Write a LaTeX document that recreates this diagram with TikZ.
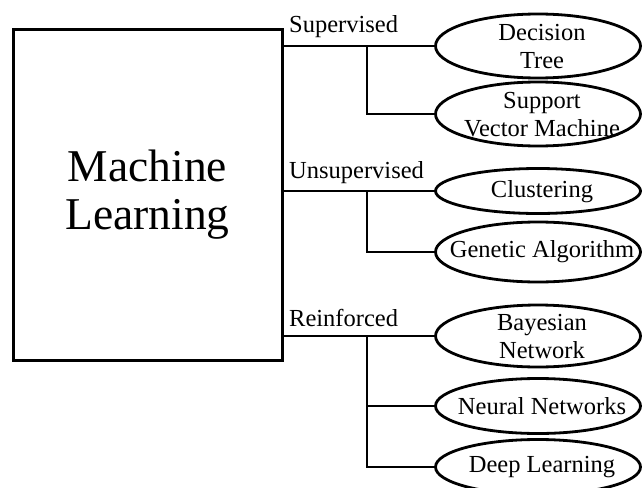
\documentclass[tikz,border=0pt]{standalone}
\usepackage{fontspec}
\setmainfont{Liberation Serif}
\usetikzlibrary{shapes.geometric}
\begin{document}
\begin{tikzpicture}[x=1pt,y=-1pt,
  link/.style={line width=2.8pt,line cap=rect},
  leaf/.style={draw,ellipse,line width=2.8pt,inner sep=0pt,minimum width=205pt},
  leaftext/.style={font=\fontsize{24.5}{28}\selectfont,align=center,inner sep=0pt},
  branchlabel/.style={font=\fontsize{24.5}{28}\selectfont,anchor=base west,inner sep=0pt}]
\useasboundingbox (0,0) rectangle (642,487);
\clip (0,0) rectangle (642,487);

% root box
\node[draw,line width=3pt,minimum width=269pt,minimum height=330pt,inner sep=0pt,
      font=\fontsize{45.5}{48}\selectfont,align=center] (ml) at (147.5,195) {Machine\\Learning};

% leaves
\node[leaf,minimum height=64pt] (dt) at (538,46) {};
\node[leaf,minimum height=64pt] (svm) at (538,114) {};
\node[leaf,minimum height=45pt] (cl) at (538,191) {};
\node[leaf,minimum height=60pt] (ga) at (538,252) {};
\node[leaf,minimum height=62pt] (bn) at (538,336) {};
\node[leaf,minimum height=55pt] (nn) at (538,406) {};
\node[leaf,minimum height=55pt] (dl) at (538,467) {};

\node[leaftext] at (542,47) {Decision\\Tree};
\node[leaftext] at (542,115) {Support\\Vector Machine};
\node[leaftext] at (542,192) {Clustering};
\node[leaftext] at (542,252) {Genetic Algorithm};
\node[leaftext] at (542,337) {Bayesian\\Network};
\node[leaftext] at (542,406) {Neural Networks};
\node[leaftext] at (542,467) {Deep Learning};

% branch labels
\node[branchlabel] (sup) at (289,33) {Supervised};
\node[branchlabel] (uns) at (289,178) {Unsupervised};
\node[branchlabel] (rei) at (289,326) {Reinforced};

% junction points
\coordinate (js) at (367,46);
\coordinate (ju) at (367,191);
\coordinate (jr) at (367,336);

% connectors
\draw[link] (ml.east |- dt.west) -- (dt.west);
\draw[link] (js) |- (svm.west);
\draw[link] (ml.east |- cl.west) -- (cl.west);
\draw[link] (ju) |- (ga.west);
\draw[link] (ml.east |- bn.west) -- (bn.west);
\draw[link] (jr) |- (nn.west);
\draw[link] (jr) |- (dl.west);
\end{tikzpicture}
\end{document}
